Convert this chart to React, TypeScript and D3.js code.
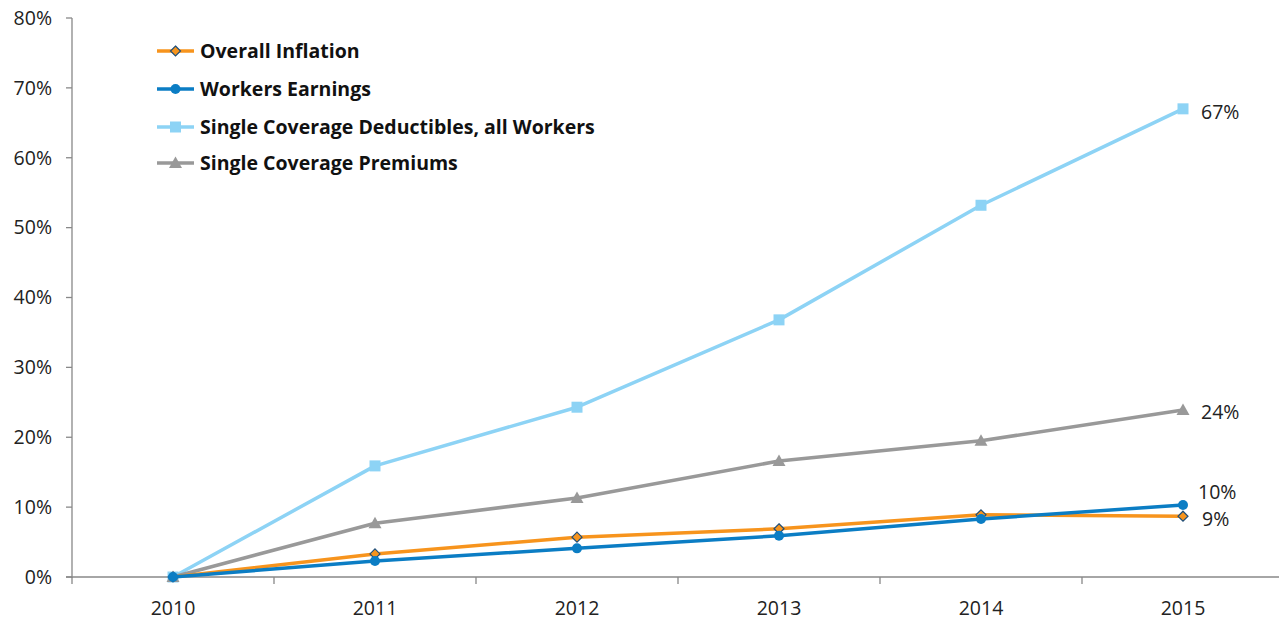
import React from "react";
import * as d3 from "d3";

const years = ["2010", "2011", "2012", "2013", "2014", "2015"];
const inflation = [0, 3.3, 5.7, 6.9, 8.9, 8.7];
const earnings = [0, 2.3, 4.1, 5.9, 8.3, 10.3];
const deductibles = [0, 15.9, 24.3, 36.8, 53.2, 67];
const premiums = [0, 7.7, 11.3, 16.6, 19.5, 23.9];
const yTicks = [0, 10, 20, 30, 40, 50, 60, 70, 80];
const seriesNames = [
  "Overall Inflation",
  "Workers Earnings",
  "Single Coverage Deductibles, all Workers",
  "Single Coverage Premiums",
];
const endLabels = ["9%", "10%", "67%", "24%"];

const W = 1279;
const H = 621;
const FONT = "'Open Sans', Lato, sans-serif";
const FS = 19.5;

export default function App() {
  const x = d3.scaleBand<string>().domain(years).range([72, 1284]);
  const y = d3.scaleLinear().domain([0, 80]).range([577, 18]);
  const cx = (i: number) => (x(years[i]) as number) + x.bandwidth() / 2;
  const line = d3
    .line<number>()
    .x((_, i) => cx(i))
    .y((d) => y(d));

  const series = [
    { name: seriesNames[0], data: inflation, color: "#F7941D", marker: "diamond", label: endLabels[0], dy: 3, dx: 19 },
    { name: seriesNames[1], data: earnings, color: "#0B7DC4", marker: "circle", label: endLabels[1], dy: -13, dx: 15 },
    { name: seriesNames[2], data: deductibles, color: "#8DD3F5", marker: "square", label: endLabels[2], dy: 3, dx: 18 },
    { name: seriesNames[3], data: premiums, color: "#999999", marker: "triangle", label: endLabels[3], dy: 2, dx: 18 },
  ];

  const marker = (kind: string, px: number, py: number, color: string, key: string) => {
    if (kind === "diamond")
      return (
        <path key={key} d={`M${px},${py - 5}L${px + 5},${py}L${px},${py + 5}L${px - 5},${py}Z`} fill={color} stroke="#1F4E79" strokeWidth={1.2} />
      );
    if (kind === "circle") return <circle key={key} cx={px} cy={py} r={5} fill={color} />;
    if (kind === "square") return <rect key={key} x={px - 5.5} y={py - 5.5} width={11} height={11} fill={color} />;
    return <path key={key} d={`M${px},${py - 6.5}L${px + 6.5},${py + 5}L${px - 6.5},${py + 5}Z`} fill={color} />;
  };

  const drawOrder = [2, 3, 0, 1];
  const legendY = [51, 89, 127, 163];

  return (
    <svg width={W} height={H} style={{ position: "absolute", left: 0, top: 0, background: "#fff" }} fontFamily={FONT}>
      {/* y axis */}
      <line x1={72} x2={72} y1={18} y2={578} stroke="#888" strokeWidth={1.3} />
      {yTicks.map((t) => (
        <g key={t}>
          <line x1={66} x2={72} y1={y(t)} y2={y(t)} stroke="#888" strokeWidth={1.3} />
          <text x={52} y={y(t)} dy="0.35em" textAnchor="end" fontSize={FS} fill="#222">
            {t}%
          </text>
        </g>
      ))}
      {/* x axis */}
      <line x1={66} x2={W} y1={577} y2={577} stroke="#888" strokeWidth={1.3} />
      {years.map((yr, i) => (
        <g key={yr}>
          <line x1={x(yr) as number} x2={x(yr) as number} y1={577} y2={584} stroke="#888" strokeWidth={1.3} />
          <text x={cx(i)} y={615} textAnchor="middle" fontSize={FS} fill="#222">
            {yr}
          </text>
        </g>
      ))}
      {/* lines */}
      {drawOrder.map((si) => {
        const s = series[si];
        return (
          <g key={s.name}>
            <path d={line(s.data) as string} fill="none" stroke={s.color} strokeWidth={3.5} strokeLinejoin="round" />
            {s.data.map((v, i) => marker(s.marker, cx(i), y(v), s.color, `${s.name}-${i}`))}
          </g>
        );
      })}
      {/* end labels */}
      {series.map((s) => (
        <text key={s.label} x={cx(5) + s.dx} y={y(s.data[5]) + s.dy} dy="0.35em" fontSize={FS} fill="#222">
          {s.label}
        </text>
      ))}
      {/* legend */}
      {series.map((s, i) => (
        <g key={s.name}>
          <line x1={157} x2={194} y1={legendY[i]} y2={legendY[i]} stroke={s.color} strokeWidth={3.5} />
          {marker(s.marker, 175.5, legendY[i], s.color, `lg-${i}`)}
          <text x={200} y={legendY[i]} dy="0.35em" fontSize={FS} fontWeight="bold" fill="#111">
            {s.name}
          </text>
        </g>
      ))}
    </svg>
  );
}
